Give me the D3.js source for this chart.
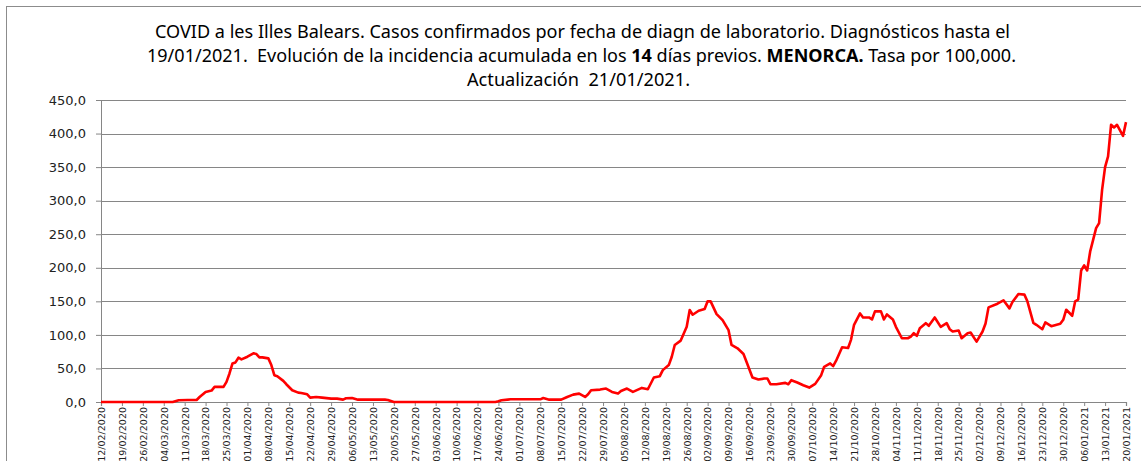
<!DOCTYPE html>
<html lang="es">
  <head>
    <meta charset="utf-8" />
    <script src="https://cdn.jsdelivr.net/npm/d3@7/dist/d3.min.js"></script>
    <style>
      body { margin: 0; background: #fff; }
      svg { display: block; }
      .title { font-family: "Noto Sans", sans-serif; font-size: 17.5px; fill: #000; white-space: pre; }
      .ytick text { font-family: "DejaVu Sans", sans-serif; font-size: 13px; fill: #222; }
      .xtick text { font-family: "DejaVu Sans", sans-serif; font-size: 9.5px; fill: #222; }
    </style>
  </head>
  <body>
    <div id="chart"></div>
    <script>
      // incidencia acumulada 14 dias, Menorca
      const dates = [
        "2020-02-12", "2020-03-07", "2020-03-09", "2020-03-12", "2020-03-15", "2020-03-16", "2020-03-18", "2020-03-20",
        "2020-03-21", "2020-03-24", "2020-03-25", "2020-03-26", "2020-03-27", "2020-03-28", "2020-03-29", "2020-03-30",
        "2020-04-01", "2020-04-03", "2020-04-04", "2020-04-05", "2020-04-06", "2020-04-08", "2020-04-09", "2020-04-10",
        "2020-04-11", "2020-04-13", "2020-04-14", "2020-04-16", "2020-04-18", "2020-04-19", "2020-04-21", "2020-04-22",
        "2020-04-24", "2020-04-26", "2020-04-29", "2020-05-01", "2020-05-03", "2020-05-04", "2020-05-06", "2020-05-08",
        "2020-05-17", "2020-05-18", "2020-05-20", "2020-06-23", "2020-06-24", "2020-06-25", "2020-06-28", "2020-07-08",
        "2020-07-09", "2020-07-11", "2020-07-15", "2020-07-17", "2020-07-19", "2020-07-21", "2020-07-23", "2020-07-24",
        "2020-07-25", "2020-07-28", "2020-07-30", "2020-08-01", "2020-08-03", "2020-08-04", "2020-08-06", "2020-08-08",
        "2020-08-11", "2020-08-13", "2020-08-15", "2020-08-17", "2020-08-18", "2020-08-20", "2020-08-21", "2020-08-22",
        "2020-08-24", "2020-08-26", "2020-08-27", "2020-08-28", "2020-08-30", "2020-09-01", "2020-09-02", "2020-09-03",
        "2020-09-05", "2020-09-07", "2020-09-09", "2020-09-10", "2020-09-12", "2020-09-14", "2020-09-15", "2020-09-17",
        "2020-09-19", "2020-09-21", "2020-09-22", "2020-09-23", "2020-09-25", "2020-09-28", "2020-09-29", "2020-09-30",
        "2020-10-02", "2020-10-04", "2020-10-06", "2020-10-08", "2020-10-10", "2020-10-11", "2020-10-13", "2020-10-14",
        "2020-10-15", "2020-10-17", "2020-10-19", "2020-10-20", "2020-10-21", "2020-10-23", "2020-10-24", "2020-10-26",
        "2020-10-27", "2020-10-28", "2020-10-30", "2020-10-31", "2020-11-01", "2020-11-03", "2020-11-04", "2020-11-06",
        "2020-11-08", "2020-11-09", "2020-11-10", "2020-11-11", "2020-11-12", "2020-11-14", "2020-11-15", "2020-11-17",
        "2020-11-19", "2020-11-21", "2020-11-22", "2020-11-23", "2020-11-25", "2020-11-26", "2020-11-28", "2020-11-29",
        "2020-12-01", "2020-12-03", "2020-12-04", "2020-12-05", "2020-12-08", "2020-12-10", "2020-12-12", "2020-12-13",
        "2020-12-15", "2020-12-17", "2020-12-18", "2020-12-20", "2020-12-21", "2020-12-23", "2020-12-24", "2020-12-26",
        "2020-12-29", "2020-12-30", "2020-12-31", "2021-01-02", "2021-01-03", "2021-01-04", "2021-01-05", "2021-01-06",
        "2021-01-07", "2021-01-08", "2021-01-09", "2021-01-10", "2021-01-11", "2021-01-12", "2021-01-13", "2021-01-14",
        "2021-01-15", "2021-01-16", "2021-01-17", "2021-01-19", "2021-01-20"
      ];
      const incidencia = [
        0, 0, 2.5, 3, 3, 7.5, 15, 17,
        22.5, 22.5, 30, 42.5, 57.5, 59, 66, 63.5,
        67.5, 72.5, 71.5, 66.5, 66.5, 65, 55, 40,
        38.5, 31.5, 26.5, 17.5, 14, 13.5, 11.5, 6.5,
        7.5, 6.5, 5, 5, 3.5, 5.5, 6, 3.5,
        3.5, 3, 0, 0, 1, 2.5, 4, 4,
        6, 3.5, 3.5, 7.5, 11, 12.5, 7.5, 11.5,
        17.5, 18.5, 20, 15, 12.5, 16.5, 20, 15,
        21, 19, 36.5, 38.5, 47.5, 55, 67.5, 85,
        91.5, 112, 137, 130, 136, 138.5, 150, 150,
        131, 122, 107, 85, 80, 71.5, 60, 36.5,
        33.5, 35, 35, 26.5, 26.5, 28.5, 26.5, 32.5,
        29, 25, 21.5, 27, 40, 52.5, 57.5, 53.5,
        61.5, 81.5, 80.5, 93, 115, 132, 126, 126,
        123, 135, 135, 123, 130.5, 123, 112, 95,
        95, 97.5, 102.5, 98.5, 110, 117.5, 113.5, 126,
        112, 117.5, 108.5, 105, 106.5, 95, 102.5, 103.5,
        90, 105, 117, 141, 146.5, 151.5, 139.5, 149,
        161, 160, 150, 118, 115, 108.5, 118.5, 113,
        116.5, 122.5, 137.5, 128.5, 150, 152.5, 196, 203.5,
        196, 224, 241.5, 259, 266.5, 316, 350, 366,
        413, 409, 413, 396.5, 417
      ];
      const yTicks = [0, 50, 100, 150, 200, 250, 300, 350, 400, 450];
      const axisStart = "2020-02-12";
      const axisEnd = "2021-01-20";
      const titleLines = [
        "COVID a les Illes Balears. Casos confirmados por fecha de diagn de laboratorio. Diagnósticos hasta el",
        "19/01/2021.  Evolución de la incidencia acumulada en los ",
        "14",
        " días previos. ",
        "MENORCA.",
        " Tasa por 100,000.",
        "Actualización  21/01/2021."
      ];

      const width = 1141, height = 461;
      const parse = d3.timeParse("%Y-%m-%d");
      const fmt = d3.timeFormat("%d/%m/%Y");
      const data = dates.map((d, i) => ({ date: parse(d), value: incidencia[i] }));

      const svg = d3.select("#chart").append("svg").attr("width", width).attr("height", height);

      // marco exterior
      svg.append("rect").attr("x", 6.5).attr("y", 6.5).attr("width", 1150).attr("height", 470)
        .attr("fill", "none").attr("stroke", "#8c8c8c");

      const x = d3.scaleTime().domain([parse(axisStart), parse(axisEnd)]).range([101, 1126]);
      const y = d3.scaleLinear().domain([0, 450]).range([402, 100]);

      // titulo
      svg.append("text").attr("class", "title").attr("x", 155).attr("y", 38)
        .attr("textLength", 855).attr("lengthAdjust", "spacingAndGlyphs").text(titleLines[0]);
      const t2 = svg.append("text").attr("class", "title").attr("x", 147).attr("y", 62)
        .attr("textLength", 869).attr("lengthAdjust", "spacingAndGlyphs");
      t2.append("tspan").text(titleLines[1]);
      t2.append("tspan").attr("font-weight", "bold").text(titleLines[2]);
      t2.append("tspan").text(titleLines[3]);
      t2.append("tspan").attr("font-weight", "bold").text(titleLines[4]);
      t2.append("tspan").text(titleLines[5]);
      svg.append("text").attr("class", "title").attr("x", 467).attr("y", 86)
        .attr("textLength", 223).attr("lengthAdjust", "spacingAndGlyphs").text(titleLines[6]);

      // rejilla + eje y
      const yAxis = svg.append("g").attr("class", "ytick").attr("transform", "translate(101,0)")
        .call(d3.axisLeft(y).tickValues(yTicks).tickSize(5).tickPadding(10)
          .tickFormat(d => d3.format(".1f")(d).replace(".", ",")));
      yAxis.select(".domain").attr("stroke", "#868686");
      yAxis.selectAll(".tick line").attr("stroke", "#868686");
      svg.append("g").selectAll("line").data(yTicks.filter(v => v > 0)).join("line")
        .attr("x1", 101).attr("x2", 1126)
        .attr("y1", d => Math.round(y(d)) + 0.5).attr("y2", d => Math.round(y(d)) + 0.5)
        .attr("stroke", "#868686").attr("stroke-width", 1.2);

      // eje x semanal
      const weeks = d3.timeDay.range(parse(axisStart), d3.timeDay.offset(parse(axisEnd), 1), 7);
      const xAxis = svg.append("g").attr("class", "xtick").attr("transform", "translate(0,402)")
        .call(d3.axisBottom(x).tickValues(weeks).tickSize(4).tickFormat(fmt));
      xAxis.select(".domain").attr("stroke", "#868686").attr("stroke-width", 1.2);
      xAxis.selectAll(".tick line").attr("stroke", "#868686");
      xAxis.selectAll(".tick text")
        .attr("transform", "rotate(-90)")
        .attr("text-anchor", "end")
        .attr("x", -5).attr("y", 0).attr("dy", "0.35em");

      // linea
      const line = d3.line().x(d => x(d.date)).y(d => y(d.value));
      svg.append("path").datum(data).attr("d", line)
        .attr("fill", "none").attr("stroke", "#ff0000").attr("stroke-width", 2.6)
        .attr("stroke-linejoin", "round");
    </script>
  </body>
</html>
